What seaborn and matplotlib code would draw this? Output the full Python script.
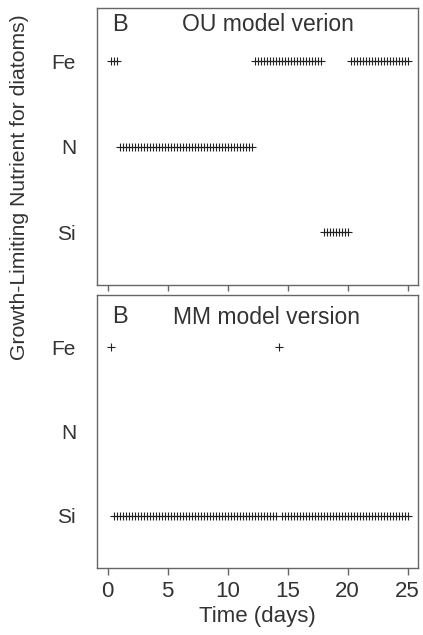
import numpy as np
import pandas as pd
import matplotlib
matplotlib.use("Agg")
import matplotlib.pyplot as plt
import seaborn as sns

# model output sampled every 0.25 day
times = np.arange(0.25, 25.001, 0.25)

# limiting nutrient, as runs of consecutive time steps
ou_runs = [("Fe", 3), ("N", 45), ("Fe", 23), ("Si", 9), ("Fe", 20)]
mm_runs = [("Fe", 1), ("Si", 55), ("Fe", 1), ("Si", 43)]

nutrients = ["Fe", "N", "Si"]
nutrient_level = {"Fe": 3, "N": 2, "Si": 1}

panel_letter = "B"
panel_titles = ["OU model verion", "MM model version"]
x_ticks = [0, 5, 10, 15, 20, 25]

sns.set_theme(style="white")
plt.rcParams["font.family"] = ["Liberation Sans", "DejaVu Sans"]
TEXT = "#333333"
MARK = "#222222"
SPINE = "#666666"


def to_frame(runs):
    names = [name for name, n in runs for _ in range(n)]
    return pd.DataFrame({"time": times[:len(names)],
                         "nutrient": names,
                         "level": [nutrient_level[n] for n in names]})


fig = plt.figure(figsize=(4.23, 6.35), dpi=100)
ax_top = fig.add_axes([0.229, 0.551, 0.759, 0.436])
ax_bot = fig.add_axes([0.229, 0.1055, 0.759, 0.4295])

for ax, runs, ty in [(ax_top, ou_runs, 0.94), (ax_bot, mm_runs, 0.92)]:
    df = to_frame(runs)
    sns.scatterplot(data=df, x="time", y="level", ax=ax, marker="+",
                    s=30, color=MARK, linewidth=0.8, legend=False)
    ax.set_xlim(-0.9, 25.85)
    ax.set_ylim(0.38, 3.62)
    ax.set_yticks([nutrient_level[n] for n in nutrients])
    ax.set_yticklabels(nutrients, fontsize=15, color=TEXT)
    ax.tick_params(axis="y", length=0, pad=15)
    ax.set_xticks(x_ticks)
    ax.tick_params(axis="x", length=5, width=1, color=SPINE, direction="out",
                   bottom=True, labelsize=16, labelcolor=TEXT, pad=4)
    ax.set_xlabel("")
    ax.set_ylabel("")
    for sp in ax.spines.values():
        sp.set_color(SPINE)
        sp.set_linewidth(1.0)
    ax.text(0.047, ty, panel_letter, transform=ax.transAxes, fontsize=17,
            color=TEXT, va="center", ha="left")

ax_top.text(0.265, 0.94, panel_titles[0], transform=ax_top.transAxes,
            fontsize=16.5, color=TEXT, va="center", ha="left")
ax_bot.text(0.237, 0.92, panel_titles[1], transform=ax_bot.transAxes,
            fontsize=16.5, color=TEXT, va="center", ha="left")

ax_top.tick_params(axis="x", labelbottom=False, length=4)

ax_bot.set_xlabel("Time (days)", fontsize=16, color=TEXT, labelpad=3)
fig.text(0.045, 1 - 187 / 635, "Growth-Limiting Nutrient for diatoms)",
         rotation=90, fontsize=15.2, color=TEXT, va="center", ha="center")

fig.savefig("out.png", dpi=100)
